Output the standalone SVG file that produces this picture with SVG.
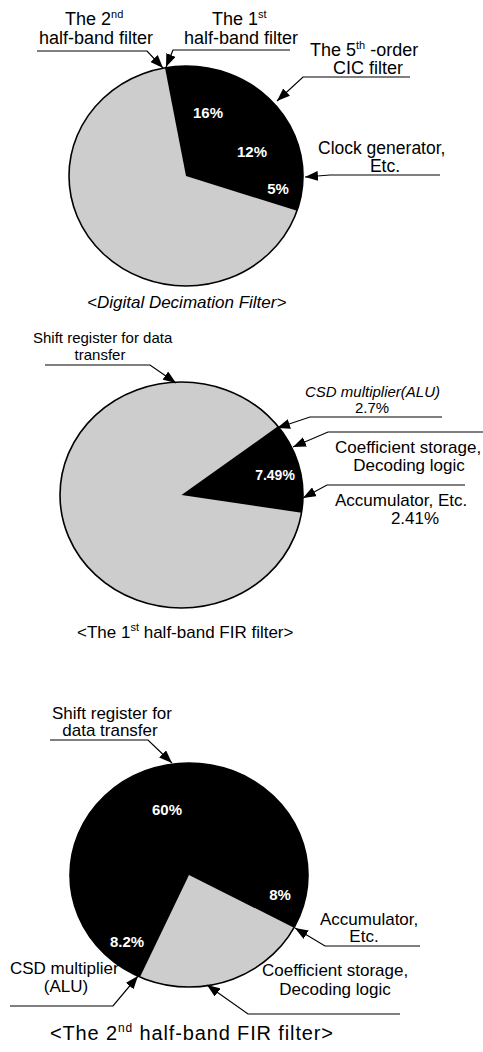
<svg xmlns="http://www.w3.org/2000/svg" width="483" height="1052" viewBox="0 0 483 1052">
<defs>
<marker id="ah" markerWidth="14" markerHeight="10" refX="13" refY="5" orient="auto" markerUnits="userSpaceOnUse">
<path d="M0,0 L13,5 L0,10 Z" fill="#000"/>
</marker>
<style>
.lbl{font-family:"Liberation Sans",Arial,sans-serif;fill:#000}
.pct{font-family:"Liberation Sans",Arial,sans-serif;font-weight:bold;fill:#fff}
.grey{fill:#cdcdcd}
.blk{fill:#000}
.rim{fill:none;stroke:#000;stroke-width:1.6}
.lead{fill:none;stroke:#000;stroke-width:1.2;marker-end:url(#ah)}
</style>
</defs>
<rect width="483" height="1052" fill="#fff"/>

<g id="pie1">
<ellipse class="grey" cx="186" cy="176" rx="117" ry="110"/>
<path class="blk" d="M186 176 L165 67.8 A117 110 0 0 1 297 210.8 Z"/>
<ellipse class="rim" cx="186" cy="176" rx="117" ry="110"/>
<text class="pct" x="208" y="118" font-size="15" text-anchor="middle">16%</text>
<text class="pct" x="252" y="157" font-size="15" text-anchor="middle">12%</text>
<text class="pct" x="278" y="194" font-size="15" text-anchor="middle">5%</text>
</g>
<g id="lbl-2nd-hb">
<text class="lbl" x="65" y="25" font-size="18">The 2<tspan font-size="11" dy="-7">nd</tspan></text>
<text class="lbl" x="39" y="44" font-size="18">half-band filter</text>
</g>
<g id="lbl-1st-hb">
<text class="lbl" x="212" y="25" font-size="18">The 1<tspan font-size="11" dy="-7">st</tspan></text>
<text class="lbl" x="184" y="44" font-size="18">half-band filter</text>
</g>
<g id="lbl-cic">
<text class="lbl" x="310" y="56" font-size="18">The 5<tspan font-size="11" dy="-7">th</tspan><tspan dy="7"> -order</tspan></text>
<text class="lbl" x="368" y="74" font-size="18" text-anchor="middle">CIC filter</text>
</g>
<g id="lbl-clock">
<text class="lbl" x="318" y="154" font-size="17.5">Clock generator,</text>
<text class="lbl" x="385" y="172" font-size="17.5" text-anchor="middle">Etc.</text>
</g>
<g id="cap1">
<text class="lbl" x="87" y="308" font-size="17" font-style="italic">&lt;Digital Decimation Filter&gt;</text>
</g>

<g id="pie2">
<ellipse class="grey" cx="181.5" cy="495" rx="121.5" ry="113"/>
<path class="blk" d="M181.5 495 L278 426.3 A121.5 113 0 0 1 301.5 512.7 Z"/>
<ellipse class="rim" cx="181.5" cy="495" rx="121.5" ry="113"/>
<text class="pct" x="275" y="480" font-size="14" text-anchor="middle">7.49%</text>
</g>
<g id="lbl-shift1">
<text class="lbl" x="33" y="343" font-size="15">Shift register for data</text>
<text class="lbl" x="100" y="360" font-size="15" text-anchor="middle">transfer</text>
</g>
<g id="lbl-csd1">
<text class="lbl" x="305" y="397" font-size="15" font-style="italic">CSD multiplier(ALU)</text>
<text class="lbl" x="372" y="413" font-size="15" text-anchor="middle">2.7%</text>
</g>
<g id="lbl-coef1">
<text class="lbl" x="335" y="453" font-size="17">Coefficient storage,</text>
<text class="lbl" x="409" y="471" font-size="17" text-anchor="middle">Decoding logic</text>
</g>
<g id="lbl-acc1">
<text class="lbl" x="335" y="506" font-size="17">Accumulator, Etc.</text>
<text class="lbl" x="415" y="524" font-size="17" text-anchor="middle">2.41%</text>
</g>
<g id="cap2">
<text class="lbl" x="77" y="638" font-size="17">&lt;The 1<tspan font-size="11" dy="-7">st</tspan><tspan dy="7"> half-band FIR filter&gt;</tspan></text>
</g>

<g id="pie3">
<ellipse class="blk" cx="189" cy="875" rx="119" ry="112"/>
<path class="grey" d="M189 875 L294 927.7 A119 112 0 0 1 140 977 Z"/>
<ellipse class="rim" cx="189" cy="875" rx="119" ry="112"/>
<text class="pct" x="167" y="815" font-size="15" text-anchor="middle">60%</text>
<text class="pct" x="280" y="900" font-size="15" text-anchor="middle">8%</text>
<text class="pct" x="127" y="947" font-size="15" text-anchor="middle">8.2%</text>
</g>
<g id="lbl-shift2">
<text class="lbl" x="52" y="719" font-size="17">Shift register for</text>
<text class="lbl" x="110" y="736" font-size="17" text-anchor="middle">data transfer</text>
</g>
<g id="lbl-acc2">
<text class="lbl" x="320" y="925" font-size="17">Accumulator,</text>
<text class="lbl" x="364" y="942" font-size="17" text-anchor="middle">Etc.</text>
</g>
<g id="lbl-csd2">
<text class="lbl" x="10" y="974" font-size="17">CSD multiplier</text>
<text class="lbl" x="66" y="992" font-size="17" text-anchor="middle">(ALU)</text>
</g>
<g id="lbl-coef2">
<text class="lbl" x="262" y="976" font-size="17">Coefficient storage,</text>
<text class="lbl" x="335" y="995" font-size="17" text-anchor="middle">Decoding logic</text>
</g>
<g id="cap3">
<text class="lbl" x="50" y="1040" font-size="20" textLength="283">&lt;The 2<tspan font-size="12" dy="-8">nd</tspan><tspan dy="8"> half-band FIR filter&gt;</tspan></text>
</g>

<g id="connectors">
<path class="lead" d="M37 51 L147 51 L163 68"/>
<path class="lead" d="M290 50 L173 50 L166 67"/>
<path class="lead" d="M410 77 L303 77 L277 101"/>
<path class="lead" d="M440 175 L330 175 L305 177"/>
<path class="lead" d="M45 365 L150 365 L176 383"/>
<path class="lead" d="M442 417 L310 417 L277 428"/>
<path class="lead" d="M483 432 L328 432 L293 447"/>
<path class="lead" d="M465 485 L327 485 L303 498"/>
<path class="lead" d="M50 740 L148 740 L172 763"/>
<path class="lead" d="M420 946 L325 946 L295 928"/>
<path class="lead" d="M10 1006 L113 1006 L138 976"/>
<path class="lead" d="M400 1014 L248 1014 L207 985"/>
</g>
</svg>
